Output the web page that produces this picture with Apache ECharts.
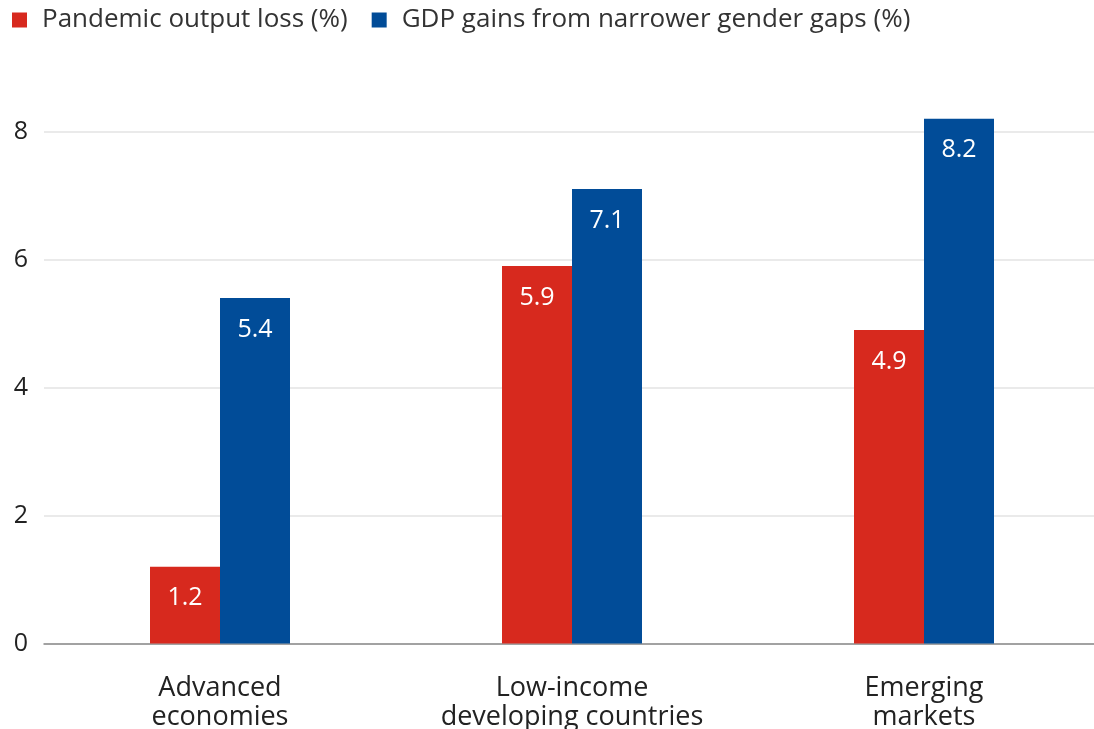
<!DOCTYPE html>
<html>
<head>
<meta charset="utf-8">
<script src="https://cdn.jsdelivr.net/npm/echarts@6/dist/echarts.min.js"></script>
<style>
html,body{margin:0;padding:0;background:#fff;}
#chart{width:1094px;height:729px;}
</style>
</head>
<body>
<div id="chart"></div>
<script>
const categories = ['Advanced\neconomies', 'Low-income\ndeveloping countries', 'Emerging\nmarkets'];
const pandemicLoss = [1.2, 5.9, 4.9];
const gdpGains = [5.4, 7.1, 8.2];
const seriesNames = ['Pandemic output loss (%)', 'GDP gains from narrower gender gaps (%)'];

const chart = echarts.init(document.getElementById('chart'));
const font = 'Open Sans';
const labelCfg = {
  show: true, position: 'insideTop', distance: 19,
  color: '#fff', fontSize: 25, fontFamily: font,
  formatter: p => p.value.toFixed(1)
};
chart.setOption({
  animation: false,
  textStyle: { fontFamily: font },
  legend: {
    left: 12, top: 7, padding: 0, itemWidth: 15, itemHeight: 15, itemGap: 24,
    icon: 'rect',
    textStyle: { fontSize: 26, color: '#333', fontFamily: font, padding: [0, 0, 0, 10] },
    data: seriesNames
  },
  grid: { left: 44, width: 1056, top: 131.5, bottom: 85.5, containLabel: false, outerBoundsMode: 'none' },
  xAxis: {
    type: 'category', data: categories,
    axisLine: { show: true, lineStyle: { color: '#8a8a8a', width: 1.5 } },
    axisTick: { show: false },
    axisLabel: { color: '#222', fontSize: 27, fontFamily: font, margin: 30, lineHeight: 29 }
  },
  yAxis: {
    type: 'value', min: 0, max: 8, interval: 2,
    axisLine: { show: false }, axisTick: { show: false },
    axisLabel: { color: '#222', fontSize: 25, fontFamily: font, margin: 16 },
    splitLine: { lineStyle: { color: '#e3e3e3', width: 1.5 } }
  },
  series: [
    { name: seriesNames[0], type: 'bar', data: pandemicLoss, barWidth: 70, barGap: '0%',
      clip: false, itemStyle: { color: '#d7291e' }, label: labelCfg },
    { name: seriesNames[1], type: 'bar', data: gdpGains, barWidth: 70,
      clip: false, itemStyle: { color: '#014c98' }, label: labelCfg }
  ]
});
</script>
</body>
</html>
